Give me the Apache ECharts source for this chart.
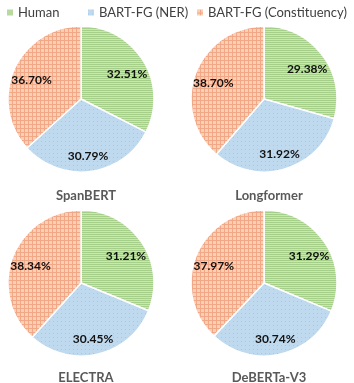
<!DOCTYPE html>
<html><head><meta charset="utf-8">
<script src="https://cdn.jsdelivr.net/npm/echarts@6/dist/echarts.min.js"></script>
<style>html,body{margin:0;padding:0;background:#fff}#c{width:354px;height:383px}</style>
</head><body><div id="c"></div>
<script>
const models = ['SpanBERT', 'Longformer', 'ELECTRA', 'DeBERTa-V3'];
const sources = ['Human', 'BART-FG (NER)', 'BART-FG (Constituency)'];
const human = [32.51, 29.38, 31.21, 31.29];
const ner = [30.79, 31.92, 30.45, 30.74];
const constituency = [36.70, 38.70, 38.34, 37.97];

function makePattern(w, h, draw) {
  const c = document.createElement('canvas');
  c.width = w; c.height = h;
  const g = c.getContext('2d');
  draw(g);
  return { image: c, repeat: 'repeat' };
}
const greenPat = makePattern(2, 2, g => {
  g.fillStyle = '#a6cf89'; g.fillRect(0, 0, 2, 2);
  g.fillStyle = '#cbe4b8'; g.fillRect(0, 1, 2, 1);
});
const bluePat = makePattern(4, 4, g => {
  g.fillStyle = '#bfd9ef'; g.fillRect(0, 0, 4, 4);
  g.fillStyle = '#a3c9ea'; g.fillRect(1, 1, 1, 1);
});
const orangePat = makePattern(4, 4, g => {
  g.fillStyle = '#f9d0b4'; g.fillRect(0, 0, 4, 4);
  g.fillStyle = '#f2a787'; g.fillRect(0, 0, 4, 1); g.fillRect(0, 0, 1, 4);
});
const patterns = [greenPat, bluePat, orangePat];
const values = [human, ner, constituency];

const centers = [[81, 99], [264, 99], [81, 283], [264, 283]];
const R = 73;
const font = 'Lato, "DejaVu Sans", sans-serif';

const series = [];
const titles = [];
models.forEach((m, i) => {
  const data = sources.map((s, k) => ({ name: s, value: values[k][i], itemStyle: { color: patterns[k] } }));
  series.push({
    type: 'pie', center: centers[i], radius: [0, R], startAngle: 90, clockwise: true,
    animation: false, label: { show: false }, labelLine: { show: false },
    itemStyle: { borderColor: '#fff', borderWidth: 1.5 },
    emphasis: { disabled: true },
    data: data
  });
  series.push({
    type: 'pie', center: [centers[i][0], centers[i][1] + 3], radius: [R * 0.4, R], startAngle: 90, clockwise: true,
    animation: false, silent: true, labelLine: { show: false },
    itemStyle: { color: 'rgba(0,0,0,0)', borderWidth: 0 },
    label: { show: true, position: 'inside', formatter: p => p.value.toFixed(2) + '%',
      color: '#111', fontWeight: 'bold', fontSize: 12, fontFamily: font },
    emphasis: { disabled: true },
    data: sources.map((s, k) => ({ name: s, value: values[k][i] }))
  });
  titles.push({
    text: m, left: centers[i][0], top: i < 2 ? 184 : 366, textAlign: 'center',
    textStyle: { fontSize: 13, fontWeight: 'bold', color: '#595959', fontFamily: font }
  });
});

const legendLeft = [0, 81, 190];
const legends = sources.map((s, k) => ({
  data: [s], left: legendLeft[k], top: 1, icon: 'rect', itemWidth: 8, itemHeight: 8, itemGap: 0,
  textStyle: { fontSize: 13, color: '#404040', fontFamily: font, padding: [0, 0, 0, -1] },
  selectedMode: false
}));

const chart = echarts.init(document.getElementById('c'), null, { renderer: 'canvas' });
chart.setOption({ animation: false, title: titles, legend: legends, series: series });
</script></body></html>
